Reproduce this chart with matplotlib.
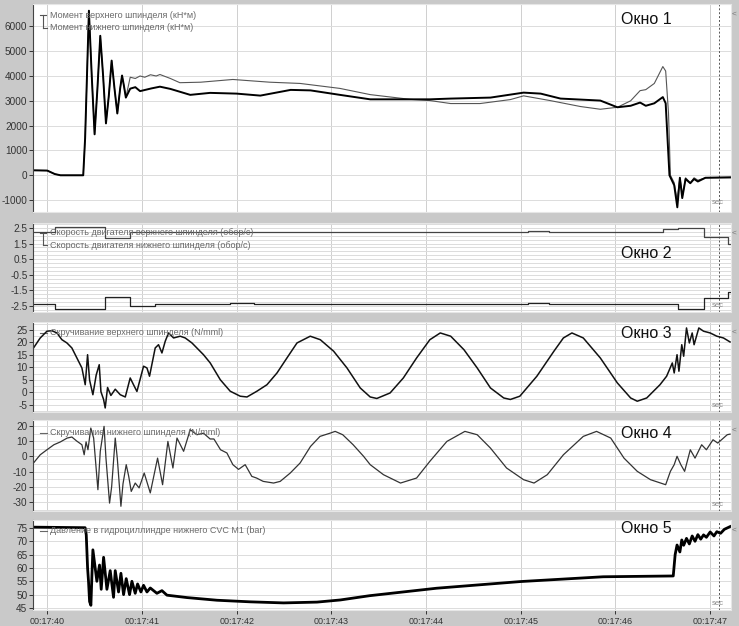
import matplotlib
matplotlib.use("Agg")
import matplotlib.pyplot as plt
from matplotlib.ticker import FixedLocator, MultipleLocator, FuncFormatter

plt.rcParams['font.family'] = ['Liberation Sans', 'DejaVu Sans']

# time axis: seconds after 00:17:00
t_ticks = [40, 41, 42, 43, 44, 45, 46, 47]
t_min, t_max = 39.85, 47.22
t_cursor = 47.095

# Окно 1 - torque, shared start (oscillation after grip)
t_osc = [39.85, 40.00, 40.08, 40.14, 40.38, 40.40, 40.44, 40.47, 40.50, 40.53, 40.56, 40.59,
         40.62, 40.65, 40.68, 40.71, 40.74, 40.77, 40.79, 40.81, 40.83]
m_osc = [200, 190, 50, 0, 0, 1500, 6630, 4000, 1650, 3500, 5620, 4000,
         2090, 3200, 4620, 3500, 2490, 3500, 4020, 3600, 3130]

t_m_up = [40.876, 40.93, 40.98, 41.03, 41.09, 41.15, 41.19, 41.30, 41.40, 41.62, 41.96, 42.10,
          42.35, 42.67, 43.09, 43.41, 43.83, 44.04, 44.26, 44.57, 44.89, 45.03, 45.31, 45.63,
          45.84, 46.02, 46.16, 46.26, 46.32, 46.41, 46.50, 46.53, 46.56, 46.58, 46.62, 46.65,
          46.68, 46.71, 46.74, 46.79, 46.83, 46.87, 46.95, 47.22]
m_up = [3950, 3900, 4000, 3950, 4050, 4000, 4060, 3900, 3730, 3750, 3860, 3820,
        3750, 3700, 3500, 3250, 3060, 3010, 2890, 2890, 3050, 3200, 3010, 2770,
        2660, 2740, 3000, 3410, 3450, 3700, 4380, 4200, 2500, 0, -300, -1000,
        -100, -800, -100, -300, -100, -200, -100, -100]

t_m_lo = [40.876, 40.93, 40.98, 41.10, 41.19, 41.30, 41.51, 41.72, 42.00, 42.25, 42.57, 42.78,
          43.09, 43.41, 43.83, 44.04, 44.26, 44.68, 45.03, 45.21, 45.42, 45.84, 46.02, 46.16,
          46.26, 46.32, 46.41, 46.50, 46.53, 46.57, 46.62, 46.653, 46.68, 46.705, 46.74, 46.79,
          46.83, 46.87, 46.95, 47.22]
m_lo = [3490, 3550, 3390, 3500, 3570, 3480, 3240, 3320, 3290, 3210, 3440, 3420,
        3240, 3060, 3060, 3060, 3090, 3130, 3330, 3290, 3090, 3010, 2740, 2800,
        2930, 2800, 2900, 3150, 2900, 0, -400, -1290, -100, -920, -150, -320,
        -150, -250, -100, -80]

# Окно 2 - motor speeds (steps)
t_s_up = [39.85, 40.084, 40.612, 40.876, 45.08, 45.30, 46.505, 46.66, 46.93, 47.19, 47.23]
s_up = [2.26, 2.58, 1.88, 2.26, 2.30, 2.26, 2.42, 2.48, 1.94, 1.45, 1.45]
t_s_lo = [39.85, 40.084, 40.612, 40.876, 41.14, 41.93, 42.18, 45.08, 45.30, 46.66, 46.93, 47.19, 47.23]
s_lo = [-2.39, -2.71, -1.94, -2.50, -2.39, -2.33, -2.39, -2.33, -2.39, -2.71, -2.00, -1.60, -1.60]

# Окно 3 - twist, upper spindle
t_tw_up = [39.855, 39.926, 39.997, 40.049, 40.102, 40.155, 40.208, 40.260, 40.313, 40.366,
           40.401, 40.426, 40.447, 40.482, 40.517, 40.549, 40.567, 40.595, 40.612, 40.637,
           40.672, 40.718, 40.771, 40.824, 40.876, 40.911, 40.947, 41.017, 41.053, 41.080,
           41.140, 41.175, 41.211, 41.246, 41.281, 41.334, 41.404, 41.457, 41.528, 41.598,
           41.650, 41.721, 41.827, 41.932, 42.038, 42.109, 42.214, 42.320, 42.426, 42.531,
           42.637, 42.777, 42.883, 43.024, 43.165, 43.305, 43.41, 43.48, 43.62, 43.76,
           43.90, 44.04, 44.15, 44.26, 44.40, 44.54, 44.68, 44.82, 44.89, 44.99,
           45.17, 45.35, 45.45, 45.54, 45.66, 45.84, 46.02, 46.16, 46.23, 46.33,
           46.47, 46.54, 46.60, 46.62, 46.65, 46.67, 46.70, 46.72, 46.75, 46.78,
           46.81, 46.83, 46.88, 46.93, 47.00, 47.07, 47.14, 47.21]
tw_up = [17.8, 21.8, 24.5, 24.7, 23.8, 21.1, 19.8, 17.8, 13.8, 9.8,
         3.1, 15.1, 5.0, -0.9, 7.0, 11.1, 0.3, -2.8, -6.2, 2.0,
         -1.2, 1.3, -0.9, -1.8, 5.8, 3.1, 0.4, 10.5, 9.8, 6.5,
         17.8, 19.1, 15.8, 20.5, 23.8, 21.8, 22.5, 21.8, 19.8, 17.1,
         15.1, 11.8, 5.1, 0.5, -1.5, -1.8, 0.5, 3.1, 7.8, 13.8,
         19.8, 22.5, 21.1, 16.5, 9.8, 1.8, -1.8, -2.4, -0.2, 5.8,
         13.8, 21.1, 23.8, 22.5, 17.1, 9.8, 1.8, -2.2, -2.8, -1.5,
         6.5, 16.5, 21.8, 23.8, 21.8, 13.8, 3.8, -2.2, -3.5, -2.2,
         3.1, 6.5, 11.8, 7.8, 15.1, 8.5, 19.1, 14.5, 25.8, 19.8,
         23.8, 19.1, 25.8, 24.5, 23.8, 22.5, 21.8, 20.2]

# Окно 4 - twist, lower spindle
t_tw_lo = [39.855, 39.926, 39.997, 40.07, 40.14, 40.21, 40.26, 40.31, 40.366, 40.39,
           40.41, 40.43, 40.46, 40.49, 40.535, 40.56, 40.60, 40.62, 40.658, 40.68,
           40.718, 40.74, 40.778, 40.80, 40.834, 40.86, 40.887, 40.929, 40.97, 41.024,
           41.088, 41.165, 41.218, 41.274, 41.327, 41.37, 41.44, 41.51, 41.58, 41.65,
           41.72, 41.76, 41.83, 41.897, 41.96, 42.02, 42.09, 42.16, 42.21, 42.28,
           42.39, 42.46, 42.566, 42.67, 42.78, 42.88, 42.99, 43.04, 43.12, 43.23,
           43.34, 43.41, 43.55, 43.73, 43.90, 44.04, 44.22, 44.41, 44.54, 44.68,
           44.85, 45.03, 45.14, 45.28, 45.45, 45.66, 45.80, 45.95, 46.09, 46.23,
           46.37, 46.53, 46.58, 46.62, 46.65, 46.69, 46.73, 46.79, 46.84, 46.91,
           46.96, 47.03, 47.08, 47.18, 47.21]
tw_lo = [-4.3, 1.1, 4.4, 7.7, 9.6, 12.1, 12.8, 10.2, 7.7, 1.1,
         9.6, 4.4, 18.7, 12.1, -21.9, 3.4, 19.8, -1.1, -30.7, -20.0,
         12.1, -1.5, -32.8, -18.0, -5.4, -13.0, -23.0, -17.5, -20.7, -10.9,
         -24.0, -1.1, -18.6, 9.9, -7.6, 12.1, 3.4, 17.6, 14.3, 15.3,
         11.5, 11.5, 4.4, 2.3, -5.4, -8.5, -5.4, -13.1, -14.2, -16.4,
         -17.5, -16.4, -10.9, -4.3, 6.6, 13.2, 15.4, 16.5, 14.3, 7.7,
         0.1, -5.4, -12.0, -17.5, -14.2, -3.2, 9.9, 16.5, 14.3, 5.5,
         -7.6, -15.3, -17.5, -12.0, 1.1, 13.2, 16.5, 12.1, -1.1, -9.8,
         -15.3, -18.6, -9.8, -5.4, 0.1, -5.4, -9.8, 4.4, -1.1, 7.7,
         4.4, 11.0, 8.8, 14.3, 14.7]

# Окно 5 - pressure in lower CVC cylinder
t_p = [39.855, 40.40, 40.412, 40.426, 40.436, 40.447, 40.461, 40.472, 40.482, 40.524,
       40.552, 40.570, 40.595, 40.630, 40.665, 40.700, 40.718, 40.753, 40.778, 40.806,
       40.834, 40.869, 40.894, 40.929, 40.954, 40.989, 41.017, 41.053, 41.088, 41.158,
       41.211, 41.264, 41.475, 41.792, 42.144, 42.495, 42.848, 43.094, 43.403, 44.11,
       44.995, 45.87, 46.61, 46.63, 46.65, 46.68, 46.70, 46.72, 46.75, 46.78,
       46.81, 46.84, 46.87, 46.90, 46.93, 46.96, 47.00, 47.04, 47.07, 47.11,
       47.15, 47.21]
p = [75.3, 75.1, 72.4, 60.0, 54.9, 47.4, 46.0, 57.4, 66.8, 55.0,
     61.1, 52.0, 64.0, 52.0, 59.0, 49.0, 59.0, 51.0, 58.0, 50.0,
     56.0, 50.0, 55.0, 50.5, 54.0, 51.0, 53.5, 51.0, 52.5, 50.5,
     51.5, 49.8, 48.9, 47.9, 47.3, 46.9, 47.2, 48.0, 49.6, 52.4,
     54.9, 56.7, 57.0, 65.0, 68.6, 66.0, 70.5, 68.5, 71.1, 69.0,
     72.0, 70.0, 72.5, 70.8, 72.4, 71.5, 73.5, 72.0, 73.6, 73.0,
     74.5, 75.5]

panels = [
    dict(rect=[0.0447, 0.6613, 0.9445, 0.3323], ylim=(-1480, 6900),
         yticks=[6000, 5000, 4000, 3000, 2000, 1000, 0, -1000], grid=1000, fmt='{:.0f}',
         title='Окно 1', ty=0.925,
         legend=['Момент верхнего шпинделя (кН*м)', 'Момент нижнего шпинделя (кН*м)'],
         ly=[0.945, 0.885]),
    dict(rect=[0.0447, 0.5016, 0.9445, 0.1422], ylim=(-2.88, 2.82),
         yticks=[2.5, 1.5, 0.5, -0.5, -1.5, -2.5], grid=0.25, fmt='{:.1f}',
         title='Окно 2', ty=0.66,
         legend=['Скорость двигателя верхнего шпинделя (обор/с)',
                 'Скорость двигателя нижнего шпинделя (обор/с)'],
         ly=[0.89, 0.75]),
    dict(rect=[0.0447, 0.3419, 0.9445, 0.1438], ylim=(-7.8, 28.2),
         yticks=[25, 20, 15, 10, 5, 0, -5], grid=2.5, fmt='{:.0f}',
         title='Окно 3', ty=0.87,
         legend=['Скручивание верхнего шпинделя (N/mml)'], ly=[0.88]),
    dict(rect=[0.0447, 0.1837, 0.9445, 0.1454], ylim=(-35.9, 24.0),
         yticks=[20, 10, 0, -10, -20, -30], grid=5, fmt='{:.0f}',
         title='Окно 4', ty=0.85,
         legend=['Скручивание нижнего шпинделя (N/mml)'], ly=[0.86]),
    dict(rect=[0.0447, 0.0256, 0.9445, 0.1438], ylim=(44.25, 78.0),
         yticks=[75, 70, 65, 60, 55, 50, 45], grid=5, fmt='{:.0f}',
         title='Окно 5', ty=0.90,
         legend=['Давление в гидроциллиндре нижнего CVC M1 (bar)'], ly=[0.88]),
]

fig = plt.figure(figsize=(7.39, 6.26), dpi=100, facecolor='#c9c9c9')
axes = []
for i, cfg in enumerate(panels):
    ax = fig.add_axes(cfg['rect'])
    ax.set_facecolor('white')
    ax.set_xlim(t_min, t_max)
    ax.set_ylim(*cfg['ylim'])
    ax.yaxis.set_major_locator(FixedLocator(cfg['yticks']))
    ax.yaxis.set_major_formatter(FuncFormatter(lambda v, pos, f=cfg['fmt']: f.format(v)))
    ax.yaxis.set_minor_locator(MultipleLocator(cfg['grid']))
    ax.xaxis.set_major_locator(FixedLocator(t_ticks))
    ax.grid(True, which='minor', axis='y', color='#dcdcdc', lw=0.7)
    ax.grid(True, which='major', axis='y', color='#dcdcdc', lw=0.7)
    ax.grid(True, which='major', axis='x', color='#cfcfcf', lw=0.7)
    ax.tick_params(axis='y', which='minor', length=0)
    ax.tick_params(axis='y', which='major', labelsize=7.2, length=3, width=0.7,
                   colors='#333333', pad=1)
    ax.tick_params(axis='x', length=3, width=0.7, labelsize=6.5, colors='#333333', pad=2)
    for side in ['top', 'right', 'bottom']:
        ax.spines[side].set_color('#e6e6e6')
    ax.spines['left'].set_color('#444444')
    ax.spines['left'].set_linewidth(0.8)
    if i < 4:
        ax.tick_params(axis='x', labelbottom=False, length=0)
    else:
        ax.xaxis.set_major_formatter(FuncFormatter(lambda v, pos: '00:17:%02d' % round(v)))
    ax.axvline(t_cursor, color='#555555', lw=0.7, ls=(0, (2, 2)))
    ax.text(0.842, cfg['ty'], cfg['title'], transform=ax.transAxes, fontsize=11.5,
            va='center', ha='left', color='#111111')
    ax.text(0.972, 0.03, 'sec', transform=ax.transAxes, fontsize=5.5, color='#888888',
            va='bottom', ha='left')
    fig.text(0.993, (cfg['rect'][1] + cfg['rect'][3]) - 0.018, '<', fontsize=6,
             color='#777777', ha='center')
    for k, (lab, y) in enumerate(zip(cfg['legend'], cfg['ly'])):
        ax.text(0.024, y, lab, transform=ax.transAxes, fontsize=6.5, color='#6a6a6a',
                va='center', ha='left')
    if len(cfg['legend']) == 2:
        y0, y1 = cfg['ly']
        ax.plot([0.014, 0.014], [y0, y1], transform=ax.transAxes, color='#555555', lw=0.8)
        ax.plot([0.010, 0.019], [y0, y0], transform=ax.transAxes, color='#555555', lw=0.8)
        ax.plot([0.014, 0.020], [y1, y1], transform=ax.transAxes, color='#555555', lw=0.8)
    else:
        ax.plot([0.010, 0.020], [cfg['ly'][0]] * 2, transform=ax.transAxes,
                color='#666666', lw=0.8)
    axes.append(ax)

ax1, ax2, ax3, ax4, ax5 = axes
ax1.plot(t_osc + t_m_up, m_osc + m_up, color='#555555', lw=0.8)
ax1.plot(t_osc + t_m_lo, m_osc + m_lo, color='black', lw=1.4)

ax2.plot(t_s_up, s_up, color='#444444', lw=0.9, drawstyle='steps-post')
ax2.plot(t_s_lo, s_lo, color='#222222', lw=0.9, drawstyle='steps-post')

ax3.plot(t_tw_up, tw_up, color='#111111', lw=1.1)
ax4.plot(t_tw_lo, tw_lo, color='#333333', lw=0.9)
ax5.plot(t_p, p, color='black', lw=2.0)

fig.savefig('out.png', dpi=100, facecolor=fig.get_facecolor())
